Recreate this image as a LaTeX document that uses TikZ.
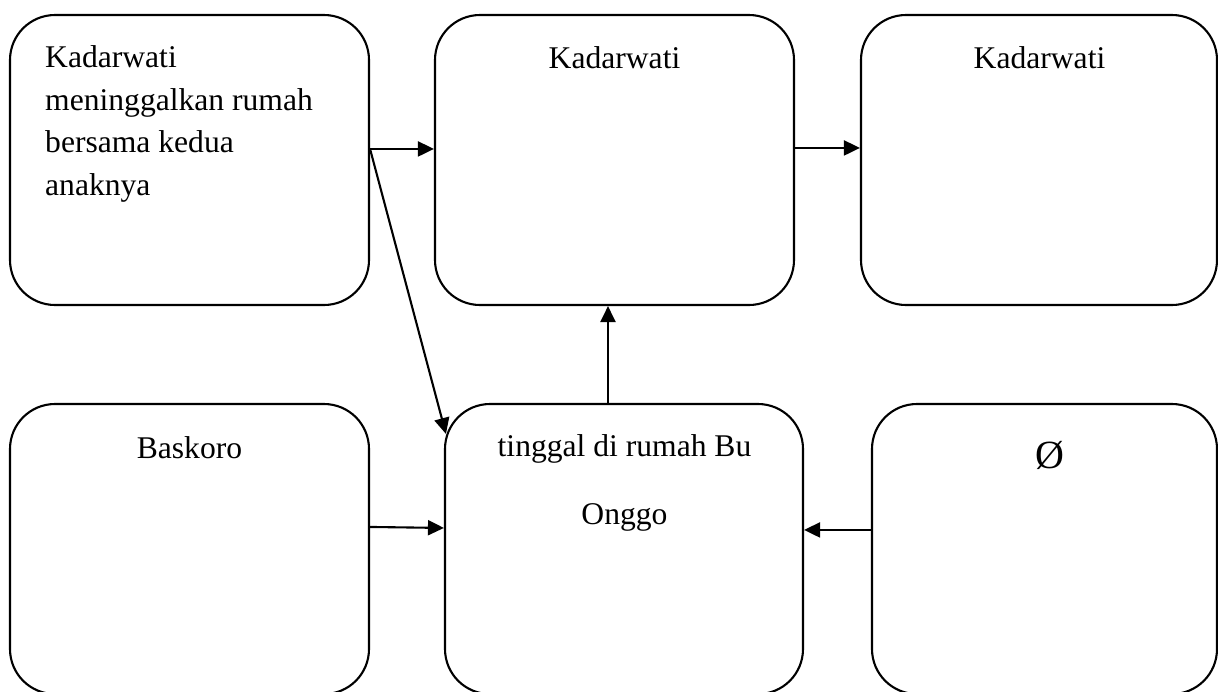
\documentclass[tikz,border=0pt]{standalone}
\usepackage{fontspec}
\setmainfont{Liberation Serif}
\usetikzlibrary{arrows.meta}
\begin{document}
\begin{tikzpicture}[x=1pt,y=-1pt,
  box/.style={draw=black, line width=2.1pt, rounded corners=45pt, rectangle, inner sep=0pt, minimum height=290pt},
  lbl/.style={inner sep=0pt, font=\fontsize{31.6}{42.5}\selectfont},
  arr/.style={draw=black, line width=2.1pt, -{Triangle[length=16pt,width=15pt]}}]
\useasboundingbox (0,0) rectangle (1218,691);
\clip (0,0) rectangle (1218,691);
% boxes
\node[box, minimum width=359pt] (A) at (189.5,160) {};
\node[box, minimum width=359pt] (B) at (614.5,160) {};
\node[box, minimum width=356pt] (C) at (1039,160) {};
\node[box, minimum width=359pt] (D) at (189.5,549) {};
\node[box, minimum width=358pt] (E) at (624,549) {};
\node[box, minimum width=345pt] (F) at (1044.5,549) {};
% texts
\node[lbl, anchor=base west, align=left] (tA) at (45,195) {Kadarwati\\meninggalkan rumah\\bersama kedua\\anaknya};
\node[lbl, anchor=base] (tB) at (614.5,68) {Kadarwati};
\node[lbl, anchor=base] (tC) at (1039.5,68) {Kadarwati};
\node[lbl, anchor=base] (tD) at (189.5,458) {Baskoro};
\node[lbl, anchor=base] (tE1) at (624.5,456) {tinggal di rumah Bu};
\node[lbl, anchor=base] (tE2) at (624.5,524) {Onggo};
\node[inner sep=0pt, anchor=base, font=\fontsize{40}{48}\selectfont] (tF) at (1050,468) {Ø};
% connectors
\draw[arr] ([yshift=-135pt]A.north east) -- ([yshift=-135pt]B.north west);
\draw[arr] ([yshift=-135pt]A.north east) -- ([xshift=2pt,yshift=-31pt]E.north west);
\draw[arr] ([yshift=-134pt]B.north east) -- ([yshift=-134pt]C.north west);
\draw[arr] ([yshift=-124pt]D.north east) -- ([yshift=-125pt]E.north west);
\draw[arr] ([yshift=-127pt]F.north west) -- ([yshift=-127pt]E.north east);
\draw[arr] ([xshift=-16pt]E.north) -- ([xshift=-6.5pt]B.south);
\end{tikzpicture}
\end{document}
